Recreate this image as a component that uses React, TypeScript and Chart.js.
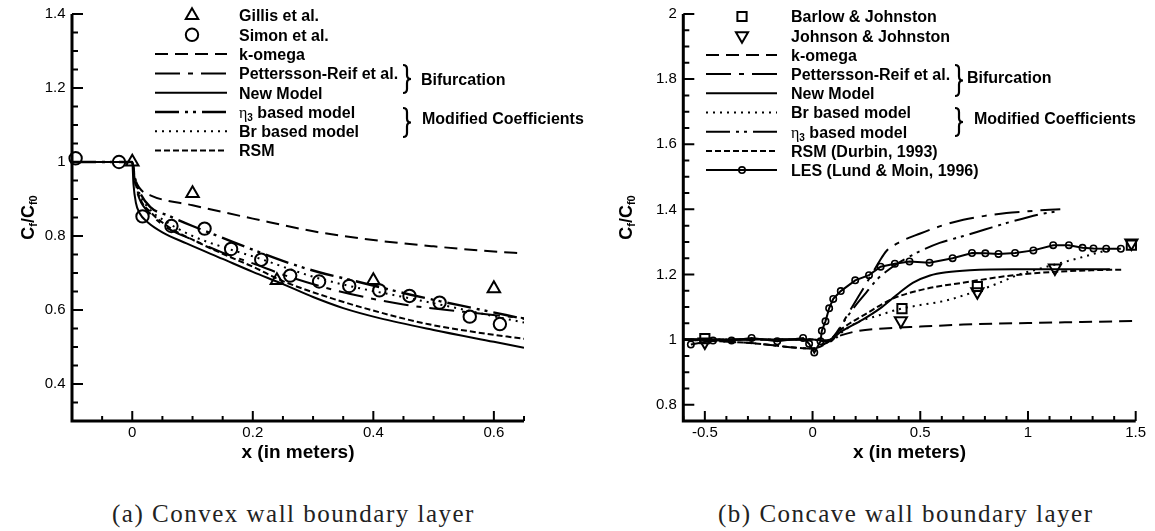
import { useEffect, useRef } from 'react';
import { Chart, registerables } from 'chart.js';

Chart.register(...registerables);

// ---------------- (a) Convex wall boundary layer ----------------
const convexXRange = [-0.1, 0.65];
const convexYRange = [0.3, 1.4];
const convexXMajor = [0, 0.2, 0.4, 0.6];
const convexYMajor = [0.4, 0.6, 0.8, 1, 1.2, 1.4];
const convexMinorStep = 0.05;

const gillisX = [0.0, 0.1, 0.24, 0.4, 0.6];
const gillisY = [1.0, 0.915, 0.68, 0.68, 0.658];

const simonX = [-0.094, -0.022, 0.017, 0.065, 0.12, 0.164, 0.214, 0.262, 0.31, 0.36, 0.41, 0.46, 0.51, 0.56, 0.61];
const simonY = [1.01, 1.0, 0.853, 0.827, 0.82, 0.765, 0.736, 0.693, 0.677, 0.665, 0.653, 0.638, 0.62, 0.582, 0.562];

const cxKOmegaX = [-0.1, 0, 0.004, 0.012, 0.03, 0.1, 0.2, 0.31, 0.4, 0.5, 0.6, 0.65];
const cxKOmegaY = [1.0, 1.0, 0.96, 0.93, 0.91, 0.883, 0.847, 0.81, 0.789, 0.772, 0.758, 0.753];

const cxPetterssonX = [-0.1, 0, 0.004, 0.012, 0.03, 0.06, 0.1, 0.15, 0.2, 0.26, 0.34, 0.45, 0.55, 0.65];
const cxPetterssonY = [1.0, 1.0, 0.95, 0.9, 0.86, 0.82, 0.79, 0.755, 0.726, 0.69, 0.652, 0.615, 0.595, 0.578];

const cxNewModelX = [-0.1, 0, 0.002, 0.006, 0.012, 0.025, 0.05, 0.09, 0.15, 0.2, 0.25, 0.3, 0.35, 0.41, 0.5, 0.6, 0.65];
const cxNewModelY = [1.0, 1.0, 0.94, 0.89, 0.862, 0.838, 0.81, 0.78, 0.738, 0.703, 0.67, 0.635, 0.605, 0.578, 0.546, 0.514, 0.498];

const cxEta3X = [-0.1, 0, 0.004, 0.012, 0.03, 0.06, 0.1, 0.15, 0.2, 0.26, 0.31, 0.36, 0.41, 0.46, 0.51, 0.56, 0.65];
const cxEta3Y = [1.0, 1.0, 0.96, 0.92, 0.878, 0.855, 0.827, 0.795, 0.763, 0.727, 0.702, 0.682, 0.662, 0.642, 0.624, 0.607, 0.576];

const cxBrX = [-0.1, 0, 0.004, 0.012, 0.03, 0.05, 0.1, 0.16, 0.2, 0.3, 0.36, 0.45, 0.53, 0.6, 0.65];
const cxBrY = [1.0, 1.0, 0.96, 0.915, 0.87, 0.845, 0.8, 0.765, 0.745, 0.69, 0.665, 0.635, 0.608, 0.583, 0.566];

const cxRsmX = [-0.1, 0, 0.004, 0.012, 0.03, 0.06, 0.1, 0.15, 0.2, 0.25, 0.33, 0.41, 0.49, 0.57, 0.65];
const cxRsmY = [1.0, 1.0, 0.955, 0.905, 0.865, 0.825, 0.79, 0.752, 0.717, 0.678, 0.632, 0.594, 0.562, 0.54, 0.522];

// ---------------- (b) Concave wall boundary layer ----------------
const concaveXRange = [-0.6, 1.5];
const concaveYRange = [0.75, 2];
const concaveXMajor = [-0.5, 0, 0.5, 1, 1.5];
const concaveYMajor = [0.8, 1, 1.2, 1.4, 1.6, 1.8, 2];
const concaveXMinorStep = 0.1;
const concaveYMinorStep = 0.05;

const barlowX = [-0.5, 0.415, 0.765, 1.48];
const barlowY = [1.003, 1.095, 1.163, 1.29];

const johnsonX = [-0.5, 0.41, 0.765, 1.125, 1.48];
const johnsonY = [0.993, 1.058, 1.147, 1.22, 1.297];

const ccKOmegaX = [-0.6, -0.3, 0, 0.05, 0.1, 0.2, 0.33, 0.5, 0.7, 1.0, 1.25, 1.5];
const ccKOmegaY = [1.0, 0.99, 0.973, 0.985, 1.005, 1.025, 1.034, 1.04, 1.046, 1.051, 1.054, 1.057];

const ccPetterssonX = [-0.6, 0, 0.05, 0.08, 0.12, 0.17, 0.22, 0.27, 0.31, 0.343, 0.4, 0.5, 0.6, 0.7, 0.8, 0.9, 1.0, 1.08, 1.15];
const ccPetterssonY = [1.0, 1.0, 0.995, 0.998, 1.03, 1.085, 1.14, 1.195, 1.24, 1.272, 1.298, 1.326, 1.35, 1.368, 1.38, 1.389, 1.394, 1.398, 1.4];

const ccNewModelX = [-0.6, 0, 0.05, 0.08, 0.134, 0.235, 0.312, 0.39, 0.467, 0.545, 0.622, 0.73, 0.93, 1.15, 1.38];
const ccNewModelY = [1.0, 1.0, 0.998, 1.0, 1.025, 1.062, 1.095, 1.137, 1.175, 1.197, 1.207, 1.213, 1.216, 1.216, 1.216];

const ccBrX = [-0.6, 0, 0.05, 0.08, 0.15, 0.204, 0.31, 0.405, 0.5, 0.62, 0.73, 0.85, 0.96, 1.05, 1.15, 1.25, 1.33, 1.4];
const ccBrY = [1.0, 1.0, 0.995, 0.995, 1.03, 1.052, 1.075, 1.094, 1.106, 1.12, 1.142, 1.17, 1.2, 1.217, 1.235, 1.253, 1.268, 1.28];

const ccEta3X = [-0.6, 0, 0.05, 0.08, 0.15, 0.2, 0.25, 0.3, 0.35, 0.4, 0.45, 0.5, 0.59, 0.7, 0.8, 0.9, 1.0, 1.08, 1.15];
const ccEta3Y = [1.0, 1.0, 0.995, 0.995, 1.06, 1.105, 1.145, 1.185, 1.213, 1.236, 1.255, 1.272, 1.297, 1.318, 1.338, 1.358, 1.376, 1.388, 1.395];

const ccRsmX = [-0.6, -0.3, 0, 0.06, 0.13, 0.25, 0.37, 0.5, 0.73, 0.9, 1.12, 1.3, 1.44];
const ccRsmY = [1.0, 0.99, 0.973, 0.987, 1.03, 1.08, 1.125, 1.152, 1.178, 1.195, 1.208, 1.213, 1.215];

const lesX = [-0.565, -0.462, -0.376, -0.283, -0.164, -0.044, -0.016, 0.008, 0.037, 0.043, 0.06, 0.077, 0.096, 0.131, 0.198, 0.262, 0.316, 0.382, 0.45, 0.543, 0.65, 0.74, 0.802, 0.863, 0.94, 1.025, 1.117, 1.19, 1.253, 1.304, 1.363, 1.431];
const lesY = [0.985, 0.997, 0.997, 1.005, 0.995, 1.005, 0.987, 0.96, 0.995, 1.027, 1.056, 1.096, 1.125, 1.149, 1.182, 1.198, 1.224, 1.233, 1.24, 1.236, 1.25, 1.266, 1.265, 1.263, 1.266, 1.274, 1.29, 1.29, 1.282, 1.28, 1.279, 1.279];

// ---------------- line styles ----------------
const DASH_KOMEGA = [13, 7];
const DASH_PETTERSSON = [25, 8, 5, 8];
const DASH_ETA3 = [24, 6, 3, 5, 3, 6];
const DASH_BR = [2, 5];
const DASH_RSM = [6, 3];

const SANS = '"Liberation Sans", Arial, sans-serif';
const SERIF = '"Liberation Serif", "Times New Roman", serif';
const INK = '#000';

const xy = (xs: number[], ys: number[]) => xs.map((x, i) => ({ x, y: ys[i] }));

function curve(label: string, xs: number[], ys: number[], dash: number[], width = 2) {
  return {
    label,
    data: xy(xs, ys),
    borderColor: INK,
    backgroundColor: INK,
    borderWidth: width,
    borderDash: dash,
    pointRadius: 0,
    cubicInterpolationMode: 'monotone',
    fill: false,
  };
}

function markers(label: string, xs: number[], ys: number[], style: string, radius: number, rotation = 0) {
  return {
    label,
    data: xy(xs, ys),
    showLine: false,
    pointStyle: style,
    pointRadius: radius,
    pointRotation: rotation,
    pointBorderWidth: 2,
    pointBorderColor: INK,
    pointBackgroundColor: 'rgba(0,0,0,0)',
    borderColor: INK,
    backgroundColor: 'rgba(0,0,0,0)',
    clip: false,
  };
}

function tickValues(min: number, max: number, step: number) {
  const out: number[] = [];
  const n = Math.round((max - min) / step);
  for (let i = 0; i <= n; i++) out.push(Math.round((min + i * step) * 1000) / 1000);
  return out;
}

const near = (v: number, list: number[]) => {
  for (let i = 0; i < list.length; i++) if (Math.abs(list[i] - v) < 1e-6) return true;
  return false;
};
const fmt = (v: number) => String(Number(v.toFixed(2)));

// ---------------- rich text (subscripts, greek) ----------------
type Run = { t: string; sub: boolean; greek: boolean };
function parseRich(text: string): Run[] {
  const parts: { t: string; sub: boolean }[] = [];
  const re = /_\{([^}]*)\}/g;
  let last = 0;
  let m: RegExpExecArray | null;
  while ((m = re.exec(text))) {
    if (m.index > last) parts.push({ t: text.slice(last, m.index), sub: false });
    parts.push({ t: m[1], sub: true });
    last = m.index + m[0].length;
  }
  if (last < text.length) parts.push({ t: text.slice(last), sub: false });
  const runs: Run[] = [];
  for (const p of parts) {
    let buf = '';
    let greek: boolean | null = null;
    for (const ch of p.t) {
      const g = /[\u0370-\u03ff]/.test(ch);
      if (greek !== null && g !== greek) {
        runs.push({ t: buf, sub: p.sub, greek: greek });
        buf = '';
      }
      greek = g;
      buf += ch;
    }
    if (buf) runs.push({ t: buf, sub: p.sub, greek: !!greek });
  }
  return runs;
}
function runFont(r: Run, size: number) {
  const sz = r.sub ? Math.round(size * 0.6) : size;
  return r.greek ? `${sz}px ${SERIF}` : `bold ${sz}px ${SANS}`;
}
function richWidth(ctx: CanvasRenderingContext2D, text: string, size: number) {
  let w = 0;
  for (const r of parseRich(text)) {
    ctx.font = runFont(r, size);
    w += ctx.measureText(r.t).width;
  }
  return w;
}
function drawRich(ctx: CanvasRenderingContext2D, text: string, x: number, baseline: number, size: number) {
  let cx = x;
  for (const r of parseRich(text)) {
    ctx.font = runFont(r, size);
    ctx.fillText(r.t, cx, r.sub ? baseline + size * 0.22 : baseline);
    cx += ctx.measureText(r.t).width;
  }
}

// same geometry as Chart.js point styles
function drawMarker(ctx: CanvasRenderingContext2D, style: string, x: number, y: number, r: number, rotation: number) {
  let rad = (rotation * Math.PI) / 180;
  ctx.beginPath();
  if (style === 'triangle') {
    ctx.moveTo(x + Math.sin(rad) * r, y - Math.cos(rad) * r);
    rad += (2 * Math.PI) / 3;
    ctx.lineTo(x + Math.sin(rad) * r, y - Math.cos(rad) * r);
    rad += (2 * Math.PI) / 3;
    ctx.lineTo(x + Math.sin(rad) * r, y - Math.cos(rad) * r);
    ctx.closePath();
  } else if (style === 'rect') {
    const s = r * Math.SQRT1_2;
    ctx.rect(x - s, y - s, 2 * s, 2 * s);
  } else {
    ctx.arc(x, y, r, 0, Math.PI * 2);
  }
  ctx.stroke();
}

function drawBrace(ctx: CanvasRenderingContext2D, x: number, y0: number, y1: number) {
  const w = 8;
  const xm = x + w / 2;
  const ym = (y0 + y1) / 2;
  ctx.beginPath();
  ctx.moveTo(x, y0);
  ctx.quadraticCurveTo(xm, y0, xm, y0 + 4);
  ctx.lineTo(xm, ym - 4);
  ctx.quadraticCurveTo(xm, ym, x + w, ym);
  ctx.quadraticCurveTo(xm, ym, xm, ym + 4);
  ctx.lineTo(xm, y1 - 4);
  ctx.quadraticCurveTo(xm, y1, x, y1);
  ctx.stroke();
}

type Decor = {
  xMajor: number[];
  yMajor: number[];
  xTitle: string;
  xTitleBaseline: number;
  yTitle: string;
  yTitleX: number;
  legend: { x0: number; x1: number; mx: number; tx: number; top: number; step: number };
  braces: { x: number; y0: number; y1: number; text: string; tx: number; ty: number }[];
};

// axes with inward ticks, titles, legend and braces
function makeDecorPlugin(d: Decor) {
  return {
    id: 'paperDecor',
    afterDraw(chart: any) {
      const ctx: CanvasRenderingContext2D = chart.ctx;
      const a = chart.chartArea;
      const xs = chart.scales.x;
      const ys = chart.scales.y;
      const left = a.left;
      const right = a.right;
      const top = a.top;
      const bottom = a.bottom;
      ctx.save();
      ctx.strokeStyle = INK;
      ctx.fillStyle = INK;
      ctx.setLineDash([]);

      // axis lines
      ctx.lineWidth = 3;
      ctx.beginPath();
      ctx.moveTo(left, top);
      ctx.lineTo(left, bottom);
      ctx.lineTo(right, bottom);
      ctx.stroke();

      // tick marks pointing into the plot
      ctx.lineWidth = 2;
      ctx.beginPath();
      const xt: any[] = xs.ticks || [];
      for (let i = 0; i < xt.length; i++) {
        const v = xt[i].value;
        const px = xs.getPixelForValue(v);
        const len = near(v, d.xMajor) ? 10 : 5;
        ctx.moveTo(px, bottom);
        ctx.lineTo(px, bottom - len);
      }
      const yt: any[] = ys.ticks || [];
      for (let i = 0; i < yt.length; i++) {
        const v = yt[i].value;
        const py = ys.getPixelForValue(v);
        const len = near(v, d.yMajor) ? 11 : 6;
        ctx.moveTo(left, py);
        ctx.lineTo(left + len, py);
      }
      ctx.stroke();

      ctx.textBaseline = 'alphabetic';
      ctx.textAlign = 'left';

      // x title
      const xw = richWidth(ctx, d.xTitle, 19);
      drawRich(ctx, d.xTitle, (left + right) / 2 - xw / 2, d.xTitleBaseline, 19);

      // y title, rotated
      ctx.save();
      ctx.translate(d.yTitleX, (top + bottom) / 2);
      ctx.rotate(-Math.PI / 2);
      const yw = richWidth(ctx, d.yTitle, 18);
      drawRich(ctx, d.yTitle, -yw / 2, 6.5, 18);
      ctx.restore();

      // legend
      const L = d.legend;
      chart.data.datasets.forEach((ds: any, i: number) => {
        const y = L.top + i * L.step;
        ctx.setLineDash([]);
        if (ds.showLine === false) {
          ctx.lineWidth = ds.pointBorderWidth;
          drawMarker(ctx, ds.pointStyle, L.mx, y, ds.pointRadius, ds.pointRotation || 0);
        } else {
          ctx.lineWidth = ds.borderWidth;
          ctx.setLineDash(ds.borderDash || []);
          ctx.beginPath();
          ctx.moveTo(L.x0, y);
          ctx.lineTo(L.x1, y);
          ctx.stroke();
          ctx.setLineDash([]);
          if (ds.pointRadius > 0) {
            ctx.lineWidth = ds.pointBorderWidth;
            drawMarker(ctx, ds.pointStyle, L.mx, y, ds.pointRadius, 0);
          }
        }
        drawRich(ctx, ds.label, L.tx, y + 5.8, 16);
      });

      // group braces
      ctx.setLineDash([]);
      ctx.lineWidth = 2.2;
      for (const b of d.braces) {
        drawBrace(ctx, b.x, b.y0, b.y1);
        drawRich(ctx, b.text, b.tx, b.ty + 5.8, 16);
      }
      ctx.restore();
    },
  };
}

type Spec = {
  datasets: any[];
  xRange: number[];
  yRange: number[];
  xTicks: number[];
  yTicks: number[];
  xMajor: number[];
  yMajor: number[];
  yAxisWidth: number;
  xAxisHeight: number;
  padRight: number;
  decor: Decor;
};

function buildConfig(s: Spec): any {
  const tickFont = { family: SANS, size: 15, lineHeight: 1 };
  return {
    type: 'line',
    data: { datasets: s.datasets },
    plugins: [makeDecorPlugin(s.decor)],
    options: {
      responsive: false,
      animation: false,
      layout: { autoPadding: false, padding: { left: 0, top: 9, right: s.padRight, bottom: 0 } },
      plugins: {
        legend: { display: false },
        tooltip: { enabled: false },
      },
      scales: {
        x: {
          type: 'linear',
          min: s.xRange[0],
          max: s.xRange[1],
          afterFit: (sc: any) => {
            sc.height = s.xAxisHeight;
          },
          afterBuildTicks: (sc: any) => {
            sc.ticks = s.xTicks.map((v) => ({ value: v }));
          },
          grid: { display: false, drawTicks: false },
          border: { display: false },
          ticks: {
            autoSkip: false,
            maxRotation: 0,
            minRotation: 0,
            padding: 4,
            color: INK,
            font: tickFont,
            callback: (v: number) => (near(v, s.xMajor) ? fmt(v) : ''),
          },
        },
        y: {
          type: 'linear',
          min: s.yRange[0],
          max: s.yRange[1],
          afterFit: (sc: any) => {
            sc.width = s.yAxisWidth;
          },
          afterBuildTicks: (sc: any) => {
            sc.ticks = s.yTicks.map((v) => ({ value: v }));
          },
          grid: { display: false, drawTicks: false },
          border: { display: false },
          ticks: {
            autoSkip: false,
            padding: 6.5,
            color: INK,
            font: tickFont,
            callback: (v: number) => (near(v, s.yMajor) ? fmt(v) : ''),
          },
        },
      },
    },
  };
}

function convexSpec(): Spec {
  return {
    datasets: [
      markers('Gillis et al.', gillisX, gillisY, 'triangle', 7.2),
      markers('Simon et al.', simonX, simonY, 'circle', 6.2),
      curve('k-omega', cxKOmegaX, cxKOmegaY, DASH_KOMEGA),
      curve('Pettersson-Reif et al.', cxPetterssonX, cxPetterssonY, DASH_PETTERSSON),
      curve('New Model', cxNewModelX, cxNewModelY, []),
      curve('η_{3} based model', cxEta3X, cxEta3Y, DASH_ETA3, 2.4),
      curve('Br based model', cxBrX, cxBrY, DASH_BR),
      curve('RSM', cxRsmX, cxRsmY, DASH_RSM),
    ],
    xRange: convexXRange,
    yRange: convexYRange,
    xTicks: tickValues(convexXRange[0], convexXRange[1], convexMinorStep),
    yTicks: tickValues(convexYRange[0], convexYRange[1], convexMinorStep),
    xMajor: convexXMajor,
    yMajor: convexYMajor,
    yAxisWidth: 72,
    xAxisHeight: 49,
    padRight: 76,
    decor: {
      xMajor: convexXMajor,
      yMajor: convexYMajor,
      xTitle: 'x (in meters)',
      xTitleBaseline: 458,
      yTitle: 'C_{f}/C_{f0}',
      yTitleX: 27,
      legend: { x0: 155, x1: 227, mx: 192, tx: 239, top: 15.5, step: 19.3 },
      braces: [
        { x: 403, y0: 65, y1: 93, text: 'Bifurcation', tx: 421, ty: 79 },
        { x: 403, y0: 108, y1: 137, text: 'Modified Coefficients', tx: 422, ty: 118 },
      ],
    },
  };
}

function concaveSpec(): Spec {
  return {
    datasets: [
      markers('Barlow & Johnston', barlowX, barlowY, 'rect', 6.5),
      markers('Johnson & Johnston', johnsonX, johnsonY, 'triangle', 7, 180),
      curve('k-omega', ccKOmegaX, ccKOmegaY, DASH_KOMEGA),
      curve('Pettersson-Reif et al.', ccPetterssonX, ccPetterssonY, DASH_PETTERSSON),
      curve('New Model', ccNewModelX, ccNewModelY, []),
      curve('Br based model', ccBrX, ccBrY, DASH_BR),
      curve('η_{3} based model', ccEta3X, ccEta3Y, DASH_ETA3),
      curve('RSM (Durbin, 1993)', ccRsmX, ccRsmY, DASH_RSM),
      {
        label: 'LES (Lund & Moin, 1996)',
        data: xy(lesX, lesY),
        borderColor: INK,
        backgroundColor: 'rgba(0,0,0,0)',
        borderWidth: 2,
        borderDash: [],
        tension: 0,
        pointStyle: 'circle',
        pointRadius: 3.2,
        pointBorderWidth: 1.6,
        pointBorderColor: INK,
        pointBackgroundColor: 'rgba(0,0,0,0)',
      },
    ],
    xRange: concaveXRange,
    yRange: concaveYRange,
    xTicks: tickValues(concaveXRange[0], concaveXRange[1], concaveXMinorStep),
    yTicks: tickValues(concaveYRange[0], concaveYRange[1], concaveYMinorStep),
    xMajor: concaveXMajor,
    yMajor: concaveYMajor,
    yAxisWidth: 83.3,
    xAxisHeight: 49,
    padRight: 19.3,
    decor: {
      xMajor: concaveXMajor,
      yMajor: concaveYMajor,
      xTitle: 'x (in meters)',
      xTitleBaseline: 458,
      yTitle: 'C_{f}/C_{f0}',
      yTitleX: 25,
      legend: { x0: 106, x1: 177, mx: 142, tx: 191, top: 16.5, step: 19.2 },
      braces: [
        { x: 355, y0: 65, y1: 96, text: 'Bifurcation', tx: 367, ty: 77 },
        { x: 355, y0: 108, y1: 136, text: 'Modified Coefficients', tx: 374, ty: 118 },
      ],
    },
  };
}

function PaperChart({ spec, width, height, left }: { spec: () => Spec; width: number; height: number; left: number }) {
  const ref = useRef<HTMLCanvasElement>(null);
  useEffect(() => {
    if (!ref.current) return;
    const chart = new Chart(ref.current, buildConfig(spec()));
    return () => chart.destroy();
  }, [spec]);
  return <canvas ref={ref} width={width} height={height} style={{ position: 'absolute', left, top: 0 }} />;
}

const captionStyle = (left: number): any => ({
  position: 'absolute',
  left,
  top: 501,
  margin: 0,
  fontFamily: SERIF,
  fontSize: 25,
  lineHeight: '25px',
  letterSpacing: '1.5px',
  color: '#222',
  whiteSpace: 'nowrap',
});

export default function App() {
  return (
    <div style={{ position: 'absolute', left: 0, top: 0, width: 1155, height: 531, background: '#fff', overflow: 'hidden' }}>
      <PaperChart spec={convexSpec} width={600} height={470} left={0} />
      <PaperChart spec={concaveSpec} width={555} height={470} left={600} />
      <div style={captionStyle(112)}>(a) Convex wall boundary layer</div>
      <div style={captionStyle(718)}>(b) Concave wall boundary layer</div>
    </div>
  );
}
